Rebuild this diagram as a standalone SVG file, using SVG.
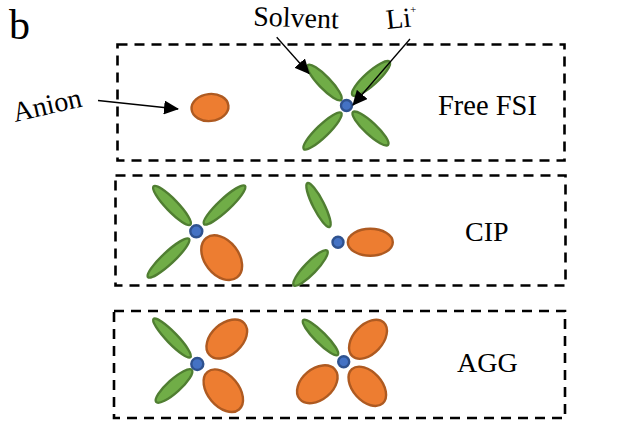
<svg xmlns="http://www.w3.org/2000/svg" width="637" height="445" viewBox="0 0 637 445">
<style>
text{font-family:"Liberation Serif","Times New Roman",serif;font-size:28px;fill:#000}
.box{fill:none;stroke:#000;stroke-width:2.6;stroke-dasharray:10 7}
.s{fill:#70AD47;stroke:#507E32;stroke-width:2.4}
.a{fill:#ED7D31;stroke:#AE5A21;stroke-width:2.4}
.li{fill:#4472C4;stroke:#2F528F;stroke-width:2.4}
.arrow{stroke:#000;stroke-width:1.3;fill:none;marker-end:url(#head)}
</style>
<defs>
<marker id="head" markerUnits="userSpaceOnUse" markerWidth="15" markerHeight="14" refX="14" refY="7" orient="auto"><path d="M0 0L15 7L0 14Z" fill="#000"/></marker>
</defs>
<rect width="637" height="445" fill="#fff"/>
<text id="panel-label" x="9" y="39" style="font-size:42px">b</text>
<g id="box-free-fsi"><rect class="box" x="117.500" y="44.500" width="447" height="116"/><text x="438" y="115" style="font-size:28.500px">Free FSI</text></g>
<g id="box-cip"><rect class="box" x="115.500" y="175.500" width="450" height="110"/><text x="465" y="241">CIP</text></g>
<g id="box-agg"><rect class="box" x="114" y="311" width="451" height="107"/><text x="457" y="372">AGG</text></g>
<g id="free-anion"><ellipse class="a" cx="210" cy="107.500" rx="18.500" ry="13.500" transform="rotate(-6 210 107.500)"/></g>
<g id="free-cluster">
<ellipse class="s" cx="324.500" cy="82.500" rx="24" ry="6" transform="rotate(46 324.500 82.500)"/>
<ellipse class="s" cx="371" cy="78.500" rx="25" ry="6.500" transform="rotate(-42 371 78.500)"/>
<ellipse class="s" cx="322.500" cy="131" rx="26" ry="6" transform="rotate(-44 322.500 131)"/>
<ellipse class="s" cx="370.500" cy="128.500" rx="24" ry="6" transform="rotate(43 370.500 128.500)"/>
<circle class="li" cx="346.500" cy="105.500" r="5.500"/>
</g>
<g id="cip-cluster-1">
<ellipse class="s" cx="172" cy="205.500" rx="26.500" ry="6" transform="rotate(46 172 205.500)"/>
<ellipse class="s" cx="224.500" cy="205" rx="28" ry="6" transform="rotate(-43 224.500 205)"/>
<ellipse class="s" cx="168.500" cy="258" rx="28" ry="6" transform="rotate(-43 168.500 258)"/>
<ellipse class="a" cx="221.700" cy="257.700" rx="25" ry="17" transform="rotate(52 221.700 257.700)"/>
<circle class="li" cx="196.300" cy="231.300" r="6"/>
</g>
<g id="cip-cluster-2">
<ellipse class="s" cx="318.500" cy="205" rx="24.500" ry="5.500" transform="rotate(63 318.500 205)"/>
<ellipse class="s" cx="310.500" cy="268" rx="24" ry="6" transform="rotate(-46 310.500 268)"/>
<ellipse class="a" cx="370.300" cy="242.300" rx="22.500" ry="13.500"/>
<circle class="li" cx="338" cy="242.300" r="5.500"/>
</g>
<g id="agg-cluster-1">
<ellipse class="s" cx="172" cy="338" rx="26.500" ry="5.500" transform="rotate(46 172 338)"/>
<ellipse class="a" cx="226.800" cy="339" rx="23.500" ry="15.500" transform="rotate(-42 226.800 339)"/>
<ellipse class="s" cx="174" cy="386" rx="24" ry="6.500" transform="rotate(-42 174 386)"/>
<ellipse class="a" cx="223.300" cy="390.700" rx="24.500" ry="15.500" transform="rotate(50 223.300 390.700)"/>
<circle class="li" cx="197.300" cy="364" r="6"/>
</g>
<g id="agg-cluster-2">
<ellipse class="s" cx="320.500" cy="337.500" rx="24.500" ry="5.500" transform="rotate(45 320.500 337.500)"/>
<ellipse class="a" cx="368" cy="339.300" rx="23" ry="14.500" transform="rotate(-47 368 339.300)"/>
<ellipse class="a" cx="317.300" cy="384.300" rx="23" ry="15.500" transform="rotate(-40 317.300 384.300)"/>
<ellipse class="a" cx="367.300" cy="386.300" rx="23" ry="14.500" transform="rotate(48 367.300 386.300)"/>
<circle class="li" cx="343.700" cy="361.700" r="5.500"/>
</g>
<g id="connectors">
<path class="arrow" d="M98 100.500L178 109"/>
<path class="arrow" d="M276.700 37.300L309 73.500"/>
<path class="arrow" d="M410 39L353 105"/>
</g>
<g id="labels">
<text x="15" y="122" transform="rotate(-13 15 122)">Anion</text>
<text x="253" y="25.500" transform="rotate(2 253 25.500)">Solvent</text>
<text x="387" y="29" transform="rotate(-6 387 29)">Li<tspan dy="-13" style="font-size:11px">+</tspan></text>
</g>
</svg>
